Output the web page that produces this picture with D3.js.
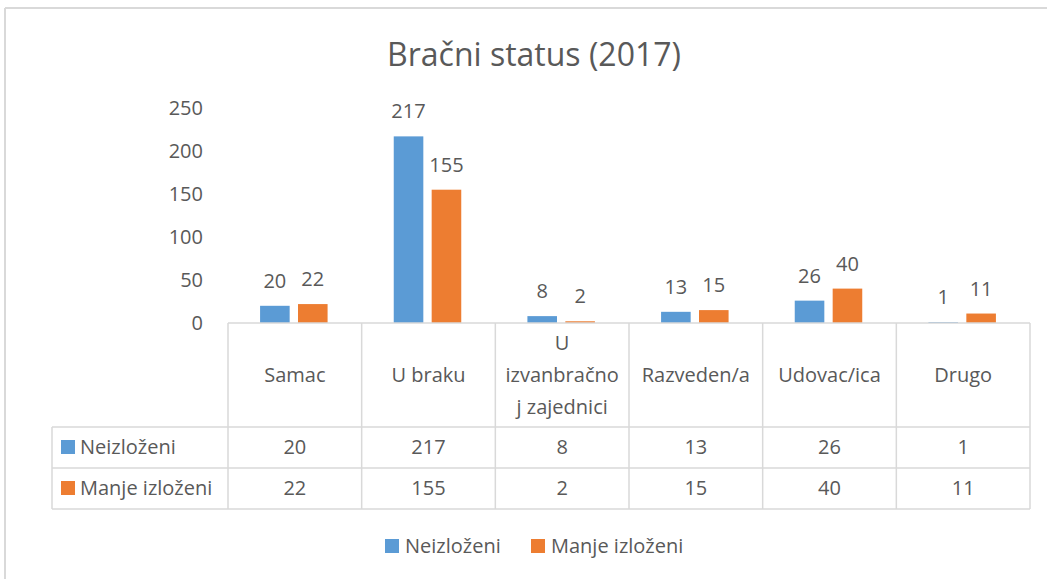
<!DOCTYPE html>
<html>
<head>
<meta charset="utf-8">
<script src="https://cdn.jsdelivr.net/npm/d3@7"></script>
<style>
  html, body { margin: 0; padding: 0; background: #fff; }
  svg text { font-family: "Open Sans", sans-serif; fill: #595959; }
</style>
</head>
<body>
<svg id="chart" width="1047" height="579"></svg>
<script>
const title = "Bračni status (2017)";
const categories = ["Samac", "U braku", "U izvanbračnoj zajednici", "Razveden/a", "Udovac/ica", "Drugo"];
const categoryLines = [["Samac"], ["U braku"], ["U", "izvanbračno", "j zajednici"], ["Razveden/a"], ["Udovac/ica"], ["Drugo"]];
const seriesNames = ["Neizloženi", "Manje izloženi"];
const neizlozeni = [20, 217, 8, 13, 26, 1];
const manjeIzlozeni = [22, 155, 2, 15, 40, 11];
const yTicks = [0, 50, 100, 150, 200, 250];
const colors = ["#5B9BD5", "#ED7D31"];

const seriesValues = [neizlozeni, manjeIzlozeni];
const svg = d3.select("#chart");
const W = 1047, H = 579;
const gridColor = "#D9D9D9";
const FS = "20px";

// outer frame
svg.append("line").attr("x1", 5).attr("x2", W).attr("y1", 8).attr("y2", 8)
  .attr("stroke", gridColor).attr("stroke-width", 2);
svg.append("line").attr("x1", 5).attr("x2", 5).attr("y1", 8).attr("y2", H)
  .attr("stroke", gridColor).attr("stroke-width", 2);

// title
svg.append("text").attr("x", 534).attr("y", 66).attr("text-anchor", "middle")
  .style("font-size", "32px").text(title);

// scales
const x0 = d3.scaleBand().domain(categories).range([228, 1030]).padding(0);
const bw = x0.bandwidth();
const x1 = d3.scaleBand().domain(seriesNames).range([bw * 0.24, bw * 0.745]).paddingInner(0.22);
const y = d3.scaleLinear().domain([0, 250]).range([323, 108]);

// y axis labels
const yAxis = d3.axisLeft(y).tickValues(yTicks).tickSize(0).tickPadding(0);
const gy = svg.append("g").attr("transform", "translate(203,0)").call(yAxis);
gy.select(".domain").remove();
gy.selectAll("text").style("font-size", FS).attr("fill", "#595959")
  .style("font-family", "'Open Sans', sans-serif");

// bars
const groups = svg.append("g").selectAll("g").data(categories).join("g")
  .attr("transform", d => `translate(${x0(d)},0)`);
groups.each(function(cat, ci) {
  const g = d3.select(this);
  seriesNames.forEach((s, si) => {
    const v = seriesValues[si][ci];
    g.append("rect").attr("x", x1(s)).attr("width", x1.bandwidth())
      .attr("y", y(v)).attr("height", y(0) - y(v)).attr("fill", colors[si]);
    g.append("text").attr("x", x1(s) + x1.bandwidth() / 2).attr("y", y(v) - 18)
      .attr("text-anchor", "middle").style("font-size", FS).text(v);
  });
});

// data table
const tableTop = 323, headerBottom = 427, row1Bottom = 468, row2Bottom = 509, legendLeft = 52;
const t = svg.append("g").attr("stroke", gridColor).attr("stroke-width", 1.5).attr("fill", "none");
t.append("line").attr("x1", 228).attr("x2", 1030).attr("y1", tableTop).attr("y2", tableTop);
[headerBottom, row1Bottom, row2Bottom].forEach(yy =>
  t.append("line").attr("x1", legendLeft).attr("x2", 1030).attr("y1", yy).attr("y2", yy));
categories.forEach(c =>
  t.append("line").attr("x1", x0(c)).attr("x2", x0(c)).attr("y1", tableTop).attr("y2", row2Bottom));
t.append("line").attr("x1", 1030).attr("x2", 1030).attr("y1", tableTop).attr("y2", row2Bottom);
t.append("line").attr("x1", legendLeft).attr("x2", legendLeft).attr("y1", headerBottom).attr("y2", row2Bottom);

// header labels
categories.forEach((c, ci) => {
  const lines = categoryLines[ci];
  const cx = x0(c) + bw / 2;
  const lh = 32;
  const startY = 382 - (lines.length - 1) * lh / 2;
  const txt = svg.append("text").attr("text-anchor", "middle").style("font-size", FS);
  lines.forEach((ln, li) => {
    txt.append("tspan").attr("x", cx).attr("y", startY + li * lh).text(ln);
  });
});

// rows
const rowBaselines = [454, 495];
seriesNames.forEach((s, si) => {
  svg.append("rect").attr("x", 61).attr("y", rowBaselines[si] - 14).attr("width", 14).attr("height", 14)
    .attr("fill", colors[si]);
  svg.append("text").attr("x", 80).attr("y", rowBaselines[si]).style("font-size", FS).text(s);
  categories.forEach((c, ci) => {
    svg.append("text").attr("x", x0(c) + bw / 2).attr("y", rowBaselines[si])
      .attr("text-anchor", "middle").style("font-size", FS).text(seriesValues[si][ci]);
  });
});

// legend
const legendX = [385, 531];
seriesNames.forEach((s, si) => {
  svg.append("rect").attr("x", legendX[si]).attr("y", 539).attr("width", 14).attr("height", 14)
    .attr("fill", colors[si]);
  svg.append("text").attr("x", legendX[si] + 20).attr("y", 553).style("font-size", FS).text(s);
});
</script>
</body>
</html>
